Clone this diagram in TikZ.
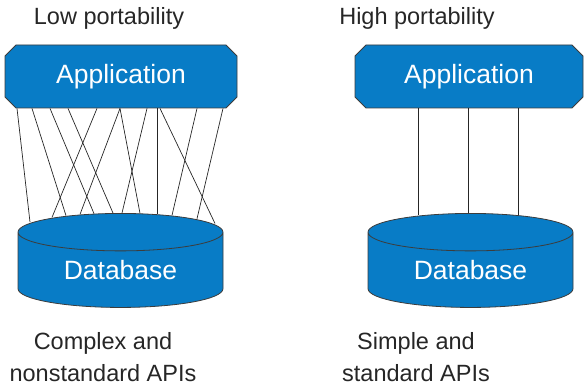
\documentclass[tikz,border=0pt]{standalone}
\usepackage{fontspec}
\setmainfont{Liberation Sans}
\usetikzlibrary{shapes.misc,shapes.geometric,calc}
\definecolor{appblue}{RGB}{8,124,198}
\definecolor{edgegray}{RGB}{60,60,60}

\begin{document}
\begin{tikzpicture}[x=1pt,y=-1pt,
  appbox/.style={chamfered rectangle, chamfered rectangle xsep=5.5pt, chamfered rectangle ysep=5.5pt,
    draw=edgegray, fill=appblue, line width=.8pt, minimum height=63pt, inner sep=0pt,
    text=white, font=\fontsize{26.5}{30}\selectfont},
  dbcyl/.style={cylinder, shape border rotate=90, aspect=.33, draw=edgegray, fill=appblue,
    line width=.8pt, minimum width=205pt, minimum height=94pt, inner sep=0pt,
    text=white, font=\fontsize{26.5}{30}\selectfont},
  caption/.style={align=center, font=\fontsize{23.5}{32}\selectfont, text=black!85},
  wire/.style={line width=.7pt, black!85}]

\useasboundingbox (0,0) rectangle (585,390);

\node [caption] (titleL) at (109,18) {Low portability};
\node [caption] (titleR) at (417,18) {High portability};

\node [appbox, minimum width=232pt] (appL) at (121,76.5) {Application};
\node [appbox, minimum width=228pt] (appR) at (469,76.5) {Application};

\node [dbcyl] (dbL) at (120.5,270) {Database};
\node [dbcyl] (dbR) at (470.5,270) {Database};

\foreach \t/\b in {-104/-90.5, -89/-54.5, -71/-26.5, -53/-7.5, -24/-68.5, -1/-40.5,
                   -1/19.5, 26/1.5, 36/36.5, 39/94.5, 76/51.5, 102/76.5}
  \draw [wire] ($(appL.south)+(\t,0)$) -- ($(dbL.top)+(\b,{17-17*sqrt(1-(\b/102.5)^2)})$);

\foreach \t/\b in {-51/-52.5, -1/-2.5, 49/47.5}
  \draw [wire] ($(appR.south)+(\t,0)$) -- ($(dbR.top)+(\b,{17-17*sqrt(1-(\b/102.5)^2)})$);

\node [caption] (capL) at (103,357) {Complex and\\nonstandard APIs};
\node [caption] (capR) at (416,357) {Simple and\\standard APIs};

\end{tikzpicture}
\end{document}
